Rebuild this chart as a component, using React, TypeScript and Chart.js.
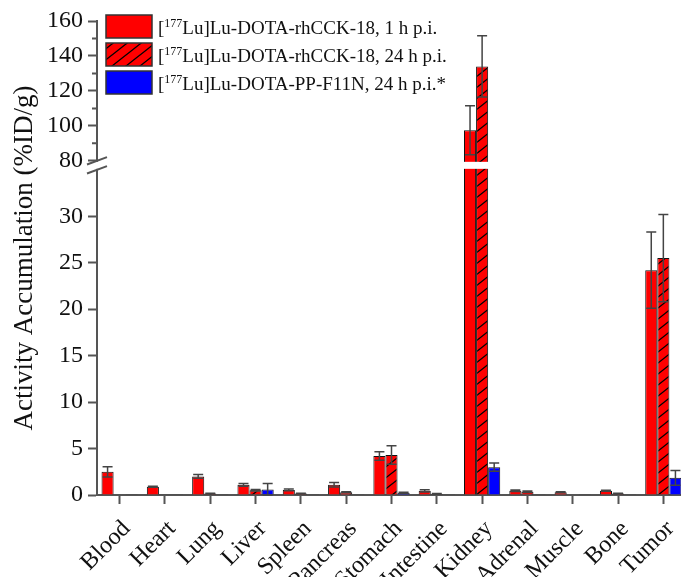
import React, { useEffect, useRef } from 'react';
import { Chart, registerables, LinearScale } from 'chart.js';

Chart.register(...registerables);

// ---------------- data ----------------
const categories = ['Blood', 'Heart', 'Lung', 'Liver', 'Spleen', 'Pancreas', 'Stomach', 'Intestine', 'Kidney', 'Adrenal', 'Muscle', 'Bone', 'Tumor'];
const seriesLabels = [
  '[177Lu]Lu-DOTA-rhCCK-18, 1 h p.i.',
  '[177Lu]Lu-DOTA-rhCCK-18, 24 h p.i.',
  '[177Lu]Lu-DOTA-PP-F11N, 24 h p.i.*',
];
const rhCCK1h = [2.5, 0.88, 2.0, 1.1, 0.55, 1.1, 4.2, 0.45, 97.5, 0.45, 0.3, 0.45, 24.2];
const rhCCK1hErr = [0.55, 0.05, 0.2, 0.15, 0.1, 0.25, 0.45, 0.12, 14, 0.08, 0.05, 0.05, 4.1];
const rhCCK24h = [0.05, 0.03, 0.15, 0.5, 0.15, 0.3, 4.3, 0.12, 134, 0.35, 0.05, 0.15, 25.5];
const rhCCK24hErr = [0, 0, 0.05, 0.08, 0.03, 0.06, 1.0, 0.03, 17.5, 0.08, 0, 0.03, 4.7];
const ppF11N24h = [0.03, 0.03, 0.03, 0.6, 0.03, 0.03, 0.25, 0.03, 3.0, 0.03, 0.03, 0.03, 1.85];
const ppF11N24hErr = [0, 0, 0, 0.65, 0, 0, 0.05, 0, 0.45, 0, 0, 0, 0.8];
const lowerTicks = [0, 5, 10, 15, 20, 25, 30];
const upperTicks = [80, 100, 120, 140, 160];
const upperMinorTicks = [90, 110, 130, 150];
const breakLow = 35;
const breakHigh = 80;
const axisMin = 0;
const axisMax = 160;
const yTitle = 'Activity Accumulation (%ID/g)';

// ---------------- style ----------------
const FONT = '"Liberation Serif", "Times New Roman", serif';
const AXIS = '#555555';
const LOWER_FRAC = 0.686;
const GAP_FRAC = 0.019;

class BrokenScale extends (LinearScale as any) {
  static id = 'broken';
  getPixelForValue(value: number) {
    if (value === null || value === undefined || isNaN(value)) return NaN;
    const top = this.top, bottom = this.bottom, h = bottom - top;
    const lowH = h * LOWER_FRAC, gapH = h * GAP_FRAC, upH = h - lowH - gapH;
    if (value <= breakLow) return bottom - ((value - axisMin) / (breakLow - axisMin)) * lowH;
    if (value >= breakHigh) return bottom - lowH - gapH - ((value - breakHigh) / (axisMax - breakHigh)) * upH;
    return bottom - lowH - ((value - breakLow) / (breakHigh - breakLow)) * gapH;
  }
  getValueForPixel(pixel: number) {
    const top = this.top, bottom = this.bottom, h = bottom - top;
    const lowH = h * LOWER_FRAC, gapH = h * GAP_FRAC, upH = h - lowH - gapH;
    const d = bottom - pixel;
    if (d <= lowH) return axisMin + (d / lowH) * (breakLow - axisMin);
    if (d >= lowH + gapH) return breakHigh + ((d - lowH - gapH) / upH) * (axisMax - breakHigh);
    return breakLow + ((d - lowH) / gapH) * (breakHigh - breakLow);
  }
}
Chart.register(BrokenScale as any);

function makeHatch(): CanvasPattern | string {
  const w = 14, h = 11;
  const c = document.createElement('canvas');
  c.width = w; c.height = h;
  const g = c.getContext('2d');
  if (!g) return '#ff0000';
  g.fillStyle = '#ff0000';
  g.fillRect(0, 0, w, h);
  g.strokeStyle = '#000000';
  g.lineWidth = 1.3;
  g.beginPath();
  g.moveTo(-w, 2 * h); g.lineTo(2 * w, -h);
  g.moveTo(-2 * w, 2 * h); g.lineTo(w, -h);
  g.moveTo(0, 2 * h); g.lineTo(3 * w, -h);
  g.stroke();
  return g.createPattern(c, 'repeat') || '#ff0000';
}

const errorSets = [rhCCK1hErr, rhCCK24hErr, ppF11N24hErr];

const decorPlugin = {
  id: 'decor',
  afterDatasetsDraw(chart: any) {
    const ctx: CanvasRenderingContext2D = chart.ctx;
    const ys = chart.scales.y;
    const { left, right } = chart.chartArea;
    const pHigh = ys.getPixelForValue(breakHigh);
    const pLow = ys.getPixelForValue(breakLow);
    ctx.save();
    // break gap
    ctx.fillStyle = '#ffffff';
    ctx.fillRect(left - 3, pHigh + 1, right - left + 3, pLow - pHigh - 2);
    ctx.strokeStyle = AXIS;
    ctx.lineWidth = 2;
    ctx.beginPath();
    ctx.moveTo(left - 10, pHigh + 3.7); ctx.lineTo(left + 10, pHigh - 3.7);
    ctx.moveTo(left - 10, pLow + 3.7); ctx.lineTo(left + 10, pLow - 3.7);
    ctx.stroke();
    // minor ticks
    ctx.beginPath();
    upperMinorTicks.forEach((v) => {
      const py = ys.getPixelForValue(v);
      ctx.moveTo(left - 5, py); ctx.lineTo(left, py);
    });
    ctx.stroke();
    // error bars
    ctx.strokeStyle = '#444444';
    ctx.lineWidth = 1.5;
    chart.data.datasets.forEach((ds: any, di: number) => {
      const meta = chart.getDatasetMeta(di);
      const errs = errorSets[di];
      meta.data.forEach((bar: any, i: number) => {
        const e = errs[i];
        if (!e) return;
        const v = ds.data[i];
        const x = bar.x;
        const t = ys.getPixelForValue(v + e);
        const b = ys.getPixelForValue(Math.max(0, v - e));
        ctx.beginPath();
        ctx.moveTo(x, t); ctx.lineTo(x, b);
        ctx.moveTo(x - 5, t); ctx.lineTo(x + 5, t);
        ctx.moveTo(x - 5, b); ctx.lineTo(x + 5, b);
        ctx.stroke();
      });
    });
    // legend
    const boxX = 106, boxW = 46, boxH = 23;
    const rowsY = [15, 43, 71];
    chart.data.datasets.forEach((ds: any, di: number) => {
      const y0 = rowsY[di];
      ctx.fillStyle = ds.backgroundColor;
      ctx.fillRect(boxX, y0, boxW, boxH);
      ctx.strokeStyle = '#333333';
      ctx.lineWidth = 1.5;
      ctx.strokeRect(boxX, y0, boxW, boxH);
      const label: string = ds.label;
      const m = label.match(/^\[(\d+)(.*)$/);
      let tx = 158;
      const base = y0 + boxH / 2 + 7;
      ctx.fillStyle = '#111111';
      ctx.textBaseline = 'alphabetic';
      ctx.textAlign = 'left';
      if (m) {
        ctx.font = `19px ${FONT}`;
        ctx.fillText('[', tx, base);
        tx += ctx.measureText('[').width;
        ctx.font = `12px ${FONT}`;
        ctx.fillText(m[1], tx, base - 7);
        tx += ctx.measureText(m[1]).width;
        ctx.font = `19px ${FONT}`;
        ctx.fillText(m[2], tx, base);
      } else {
        ctx.font = `19px ${FONT}`;
        ctx.fillText(label, tx, base);
      }
    });
    ctx.restore();
  },
};

export default function App() {
  const ref = useRef<HTMLCanvasElement | null>(null);
  useEffect(() => {
    if (!ref.current) return;
    const hatch = makeHatch();
    const chart = new Chart(ref.current, {
      type: 'bar',
      data: {
        labels: categories,
        datasets: [
          { label: seriesLabels[0], data: rhCCK1h, backgroundColor: '#ff0000', borderColor: '#111111', borderWidth: 1 },
          { label: seriesLabels[1], data: rhCCK24h, backgroundColor: hatch as any, borderColor: '#111111', borderWidth: 1 },
          { label: seriesLabels[2], data: ppF11N24h, backgroundColor: '#0000ff', borderColor: '#111111', borderWidth: 1 },
        ],
      },
      options: {
        animation: false,
        responsive: true,
        maintainAspectRatio: false,
        layout: { padding: { top: 21, right: 4, left: 0, bottom: 0 } },
        datasets: { bar: { categoryPercentage: 0.8, barPercentage: 1.0, inflateAmount: 0 } } as any,
        plugins: { legend: { display: false }, tooltip: { enabled: false } },
        scales: {
          x: {
            type: 'category',
            offset: true,
            grid: { display: true, drawOnChartArea: false, offset: false, tickLength: 9, tickColor: AXIS, tickWidth: 2 },
            border: { display: true, color: AXIS, width: 2 },
            ticks: { minRotation: 45, maxRotation: 45, autoSkip: false, font: { family: FONT, size: 24 }, color: '#111111', padding: 11, labelOffset: 7 },
            afterFit: (s: any) => { s.height = 82; s.paddingLeft = 0; s.paddingRight = 0; },
          },
          y: {
            type: 'broken' as any,
            min: axisMin,
            max: axisMax,
            afterBuildTicks: (s: any) => { s.ticks = [...lowerTicks, ...upperTicks].map((v) => ({ value: v })); },
            grid: { display: true, drawOnChartArea: false, tickLength: 9, tickColor: AXIS, tickWidth: 2 },
            border: { display: true, color: AXIS, width: 2 },
            ticks: { autoSkip: false, font: { family: FONT, size: 24 }, color: '#111111', padding: 5, callback: (v: any) => String(v) },
            title: { display: true, text: yTitle, font: { family: FONT, size: 27 }, color: '#111111', padding: { top: 9, bottom: 0 } },
            afterFit: (s: any) => { s.width = 97; },
          } as any,
        },
      },
      plugins: [decorPlugin],
    });
    return () => chart.destroy();
  }, []);
  return (
    <div style={{ position: 'fixed', left: 0, top: 0, width: 690, height: 577, background: '#fff' }}>
      <canvas ref={ref} />
    </div>
  );
}
